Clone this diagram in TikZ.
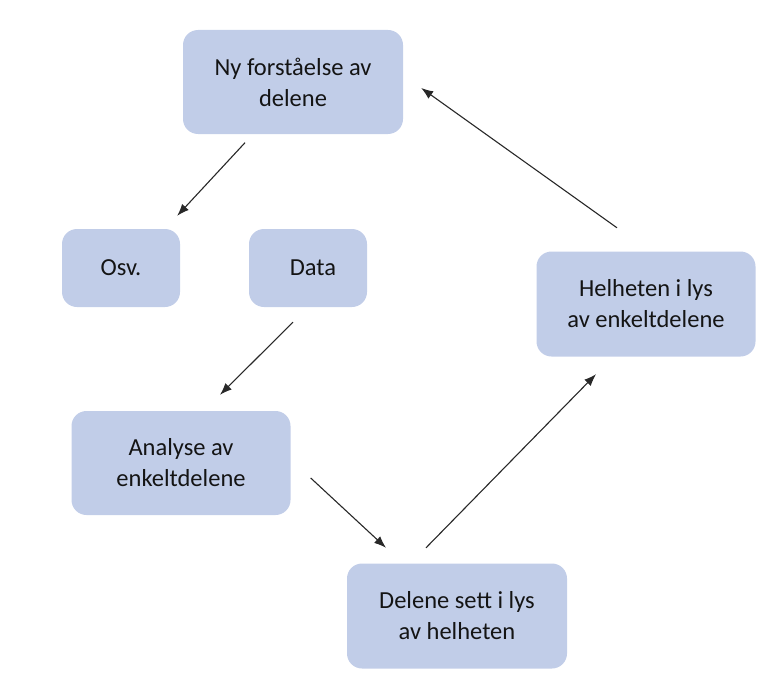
\documentclass[tikz,border=0pt]{standalone}
\usepackage{fontspec}
\setmainfont{Carlito}
\usetikzlibrary{arrows.meta,calc}
\definecolor{boxblue}{RGB}{193,205,232}
\definecolor{txtgray}{RGB}{20,20,20}
\definecolor{arrgray}{RGB}{40,40,40}
\begin{document}
\begin{tikzpicture}[x=1pt,y=-1pt]
\tikzstyle{box}=[fill=boxblue,rounded corners=15pt,align=center,text=txtgray,
  inner sep=0pt,font=\fontsize{24.5}{31}\selectfont]
\tikzstyle{arr}=[draw=arrgray,line width=1.1pt,-{Latex[length=12pt,width=9pt]}]
\useasboundingbox (0,0) rectangle (781,682);
\node [box,minimum width=220pt,minimum height=104pt] (ny) at (293,82) {Ny forståelse av\\delene};
\node [box,minimum width=118pt,minimum height=78pt] (osv) at (121,268) {Osv.};
\node [box,minimum width=118pt,minimum height=78pt] (data) at (308,268) {\hspace*{10pt}Data};
\node [box,minimum width=219pt,minimum height=105pt] (helhet) at (646,304) {Helheten i lys\\av enkeltdelene};
\node [box,minimum width=219pt,minimum height=104pt] (analyse) at (181,463) {Analyse av\\enkeltdelene};
\node [box,minimum width=220pt,minimum height=105pt] (delene) at (457,616) {Delene sett i lys\\av helheten};
\draw [arr] ($(ny.south)+(-48,8.5)$) -- ($(osv.north east)+(-3,-13)$);
\draw [arr] ($(data.south)+(-15,15)$) -- ($(analyse.north)+(39,-16)$);
\draw [arr] ($(analyse.east)+(20,15)$) -- ($(delene.north)+(-71,-15.5)$);
\draw [arr] ($(delene.north)+(-31,-15.5)$) -- ($(helhet.south)+(-50,17.5)$);
\draw [arr] ($(helhet.north)+(-29,-23.5)$) -- ($(ny.east)+(18,6)$);
\end{tikzpicture}
\end{document}
